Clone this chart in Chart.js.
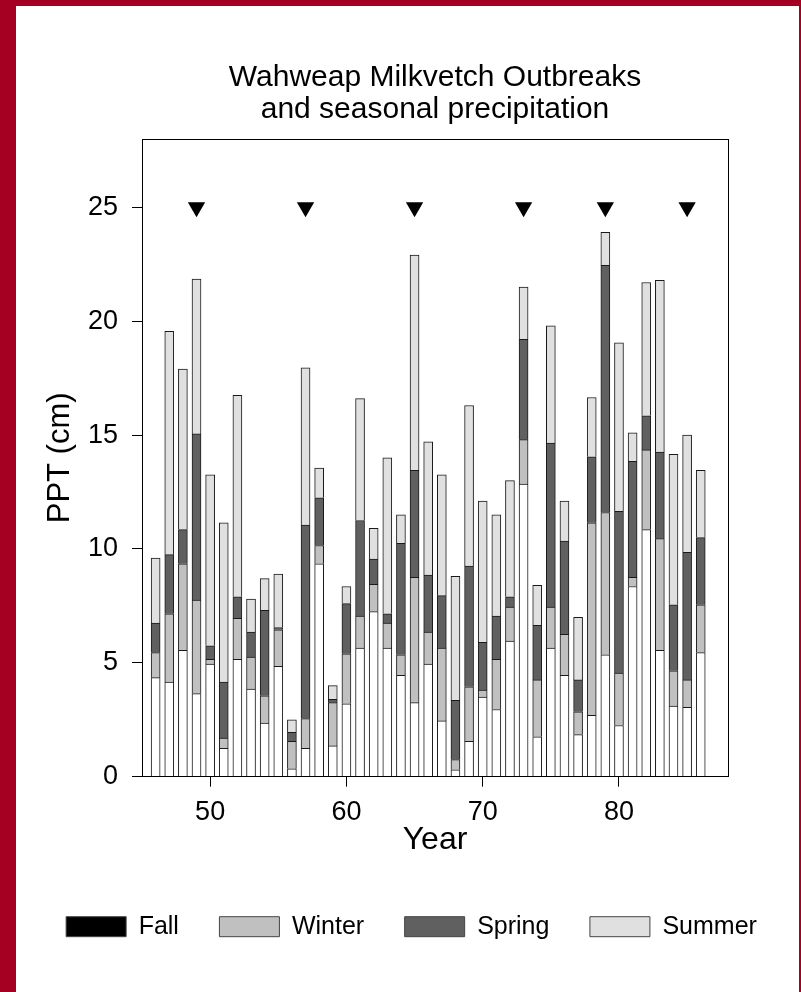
<!DOCTYPE html>
<html>
<head>
<meta charset="utf-8">
<title>Wahweap Milkvetch Outbreaks</title>
<script src="https://cdn.jsdelivr.net/npm/chart.js@4.4.1/dist/chart.umd.min.js"></script>
<style>
    html, body { margin: 0; padding: 0; background: #fff; }
    #frame { position: absolute; left: 0; top: 0; width: 801px; height: 992px; background: #a50021; }
    #inner { position: absolute; left: 16px; top: 6px; width: 783px; height: 986px; background: #fff; }
    canvas { display: block; }
</style>
</head>
<body>
<div id="frame"><div id="inner"><canvas id="chart" width="783" height="986"></canvas></div></div>
<script>
// Years (19xx) and seasonal precipitation (cm)
const years = [46, 47, 48, 49, 50, 51, 52, 53, 54, 55, 56, 57, 58, 59, 60, 61, 62, 63, 64, 65, 66,
    67, 68, 69, 70, 71, 72, 73, 74, 75, 76, 77, 78, 79, 80, 81, 82, 83, 84, 85, 86];
const fall = [4.35, 4.15, 5.55, 3.65, 4.95, 1.25, 5.15, 3.85, 2.35, 4.85, 0.35, 1.25, 9.35, 1.35, 3.2, 5.65, 7.25, 5.65, 4.45, 3.25, 4.95,
    2.45, 0.3, 1.55, 3.5, 2.95, 5.95, 12.85, 1.75, 5.65, 4.45, 1.85, 2.7, 5.35, 2.25, 8.35, 10.85, 5.55, 3.1, 3.05, 5.45];
const winter = [1.1, 3.0, 3.8, 4.1, 0.2, 0.45, 1.8, 1.4, 1.2, 1.6, 1.2, 1.3, 0.8, 1.9, 2.2, 1.4, 1.2, 1.1, 0.9, 5.5, 1.4,
    3.2, 0.45, 2.4, 0.3, 2.2, 1.5, 1.95, 2.5, 1.8, 1.8, 1.0, 8.45, 6.25, 2.3, 0.4, 3.5, 4.9, 1.55, 1.2, 2.1];
const spring = [1.3, 2.6, 1.5, 7.3, 0.6, 2.45, 0.95, 1.1, 3.75, 0.1, 0.4, 8.5, 2.1, 0.15, 2.2, 4.2, 1.1, 0.4, 4.9, 4.7, 2.5,
    2.3, 2.6, 5.3, 2.1, 1.9, 0.45, 4.4, 2.4, 7.2, 4.1, 1.4, 2.9, 10.85, 7.1, 5.1, 1.5, 3.8, 2.9, 5.6, 2.95];
const summer = [2.85, 9.8, 7.05, 6.8, 7.5, 7.0, 8.85, 1.45, 1.4, 2.35, 0.55, 6.9, 1.3, 0.6, 0.75, 5.35, 1.35, 6.85, 1.25, 9.45, 5.85,
    5.3, 5.45, 7.05, 6.2, 4.45, 5.1, 2.3, 1.75, 5.15, 1.75, 2.75, 2.6, 1.45, 7.4, 1.25, 5.85, 7.55, 6.6, 5.15, 2.95];

// Outbreak years, marked with triangles at the 25 cm level
const outbreakYears = [49, 57, 65, 73, 79, 85];
const outbreakLevel = 25;

const seriesNames = ['Fall', 'Winter', 'Spring', 'Summer'];
const xTicks = [50, 60, 70, 80];
const yTicks = [0, 5, 10, 15, 20, 25];

const barColors = ['#ffffff', '#c0c0c0', '#606060', '#e0e0e0'];
const legendColors = ['#000000', '#c0c0c0', '#606060', '#e0e0e0'];

Chart.defaults.font.family = '"Liberation Sans", Arial, Helvetica, sans-serif';
Chart.defaults.color = '#000';

// box around the plot area
const frameBox = {
    id: 'frameBox',
    afterDatasetsDraw(chart) {
        const {ctx, chartArea: a} = chart;
        ctx.save();
        ctx.strokeStyle = '#000';
        ctx.lineWidth = 1;
        const l = Math.floor(a.left) + 0.5, r = Math.floor(a.right) + 0.5;
        const t = Math.floor(a.top) + 0.5, b = Math.floor(a.bottom) + 0.5;
        ctx.strokeRect(l, t, r - l, b - t);
        ctx.restore();
    }
};

const seasonData = [fall, winter, spring, summer];

const datasets = seriesNames.map((name, i) => ({
    type: 'bar',
    label: name,
    data: seasonData[i],
    backgroundColor: barColors[i],
    borderColor: '#1a1a1a',
    borderWidth: 1,
    borderSkipped: 'start',
    barThickness: 9,
    order: 2
}));

datasets.push({
    type: 'scatter',
    label: 'Outbreak',
    data: outbreakYears.map(y => ({x: y, y: outbreakLevel})),
    pointStyle: 'triangle',
    rotation: 180,
    radius: 10,
    backgroundColor: '#000',
    borderColor: '#000',
    borderWidth: 0,
    order: 1
});

new Chart(document.getElementById('chart'), {
    type: 'bar',
    data: {
        labels: years,
        datasets: datasets
    },
    options: {
        responsive: false,
        animation: false,
        events: [],
        layout: {
            padding: {left: 8, right: 0, top: 0, bottom: 42.8}
        },
        plugins: {
            title: {
                display: true,
                text: ['Wahweap Milkvetch Outbreaks', 'and seasonal precipitation'],
                fullSize: false,
                color: '#000',
                font: {size: 30, weight: 'normal', lineHeight: 1.07},
                padding: {top: 56, bottom: 12.8}
            },
            legend: {
                position: 'bottom',
                labels: {
                    boxWidth: 60,
                    boxHeight: 20,
                    padding: 40.5,
                    color: '#000',
                    font: {size: 25},
                    generateLabels: () => seriesNames.map((name, i) => ({
                        text: name,
                        fillStyle: legendColors[i],
                        strokeStyle: '#444',
                        lineWidth: 1,
                        hidden: false,
                        datasetIndex: i
                    }))
                }
            },
            tooltip: {enabled: false}
        },
        scales: {
            x: {
                type: 'linear',
                stacked: true,
                offset: false,
                min: 45,
                max: 88,
                afterBuildTicks: (scale) => { scale.ticks = xTicks.map(v => ({value: v})); },
                afterFit: (scale) => { scale.height = 97; },
                grid: {
                    offset: false,
                    drawOnChartArea: false,
                    drawTicks: true,
                    tickLength: 10,
                    color: '#000'
                },
                border: {display: true, color: '#000', width: 1},
                ticks: {
                    color: '#000',
                    padding: 10.1,
                    maxRotation: 0,
                    font: {size: 27}
                },
                title: {
                    display: true,
                    text: 'Year',
                    color: '#000',
                    font: {size: 32},
                    padding: {top: 0, bottom: 14.5}
                }
            },
            y: {
                type: 'linear',
                stacked: true,
                min: 0,
                max: 28,
                afterBuildTicks: (scale) => { scale.ticks = yTicks.map(v => ({value: v})); },
                afterFit: (scale) => { scale.width = 118; },
                grid: {
                    drawOnChartArea: false,
                    drawTicks: true,
                    tickLength: 10,
                    color: '#000'
                },
                border: {display: true, color: '#000', width: 1},
                ticks: {
                    color: '#000',
                    padding: 14,
                    font: {size: 27}
                },
                title: {
                    display: true,
                    text: 'PPT (cm)',
                    color: '#000',
                    font: {size: 31},
                    padding: {top: 17.4, bottom: 0}
                }
            },
            y2: {
                type: 'linear',
                position: 'right',
                display: true,
                afterFit: (scale) => { scale.width = 71; },
                grid: {display: false},
                border: {display: false},
                ticks: {display: false}
            }
        }
    },
    plugins: [frameBox]
});
</script>
</body>
</html>
